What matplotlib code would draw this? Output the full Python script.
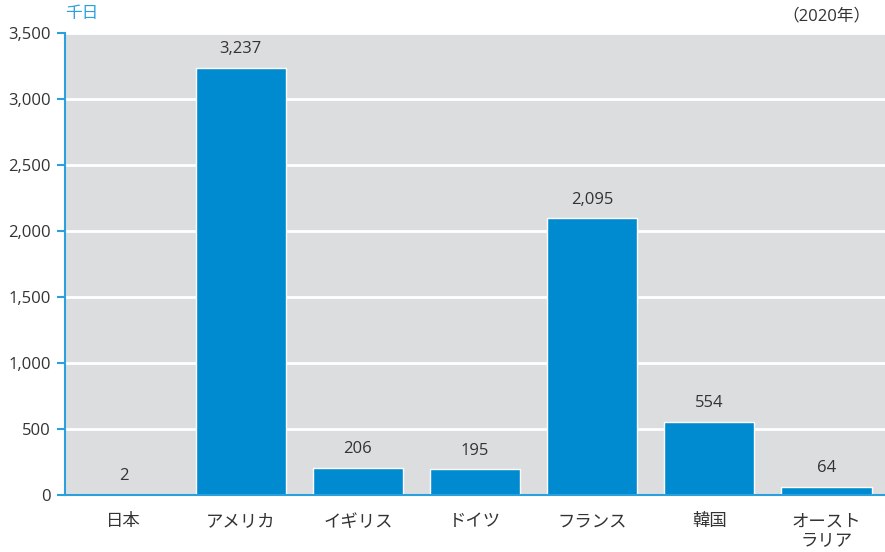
import matplotlib.pyplot as plt

plt.rcParams['font.family'] = ['Open Sans', 'Noto Sans CJK JP', 'DejaVu Sans']

countries = ['日本', 'アメリカ', 'イギリス', 'ドイツ', 'フランス', '韓国', 'オースト\nラリア']
days = [2, 3237, 206, 195, 2095, 554, 64]
yticks = [0, 500, 1000, 1500, 2000, 2500, 3000, 3500]

bar_color = '#008bd0'
axis_color = '#2aa0dc'
bg_color = '#dcdddf'
text_color = '#333333'

fig = plt.figure(figsize=(8.85, 5.52), dpi=100)
ax = fig.add_axes([65 / 885, 57 / 552, 820 / 885, 462 / 552])
ax.set_facecolor(bg_color)

x = range(len(countries))
# bars sit under the spines so the axis line stays blue at zero
bars = ax.bar(x, days, width=0.77, color=bar_color, edgecolor='white',
              linewidth=1, zorder=2)

for xi, v in zip(x, days):
    ax.text(xi, v + 80, f'{v:,}', ha='center', va='bottom',
            fontsize=12, color=text_color, zorder=4)

ax.set_xlim(-0.5, len(countries) - 0.5)
ax.set_ylim(0, 3500)
ax.set_yticks(yticks)
ax.set_yticklabels([f'{t:,}' for t in yticks])
ax.set_xticks(list(x))
ax.set_xticklabels(countries, linespacing=1.2, va='top')

ax.yaxis.grid(True, color='white', linewidth=2)
ax.set_axisbelow(True)

for s in ['top', 'right']:
    ax.spines[s].set_visible(False)
for s in ['left', 'bottom']:
    ax.spines[s].set_color(axis_color)
    ax.spines[s].set_linewidth(1.5)

ax.tick_params(axis='y', direction='out', length=6, width=1.5,
               color=axis_color, labelsize=12, labelcolor=text_color, pad=4)
ax.tick_params(axis='x', length=0, labelsize=12.5, labelcolor=text_color, pad=14)

fig.text(65 / 885, 1 - 14 / 552, '千日', color=axis_color, fontsize=12,
         ha='left', va='center')
fig.text(870 / 885, 1 - 16 / 552, '（2020年）', color=text_color, fontsize=12,
         ha='right', va='center')

fig.savefig('out.png', dpi=100)
